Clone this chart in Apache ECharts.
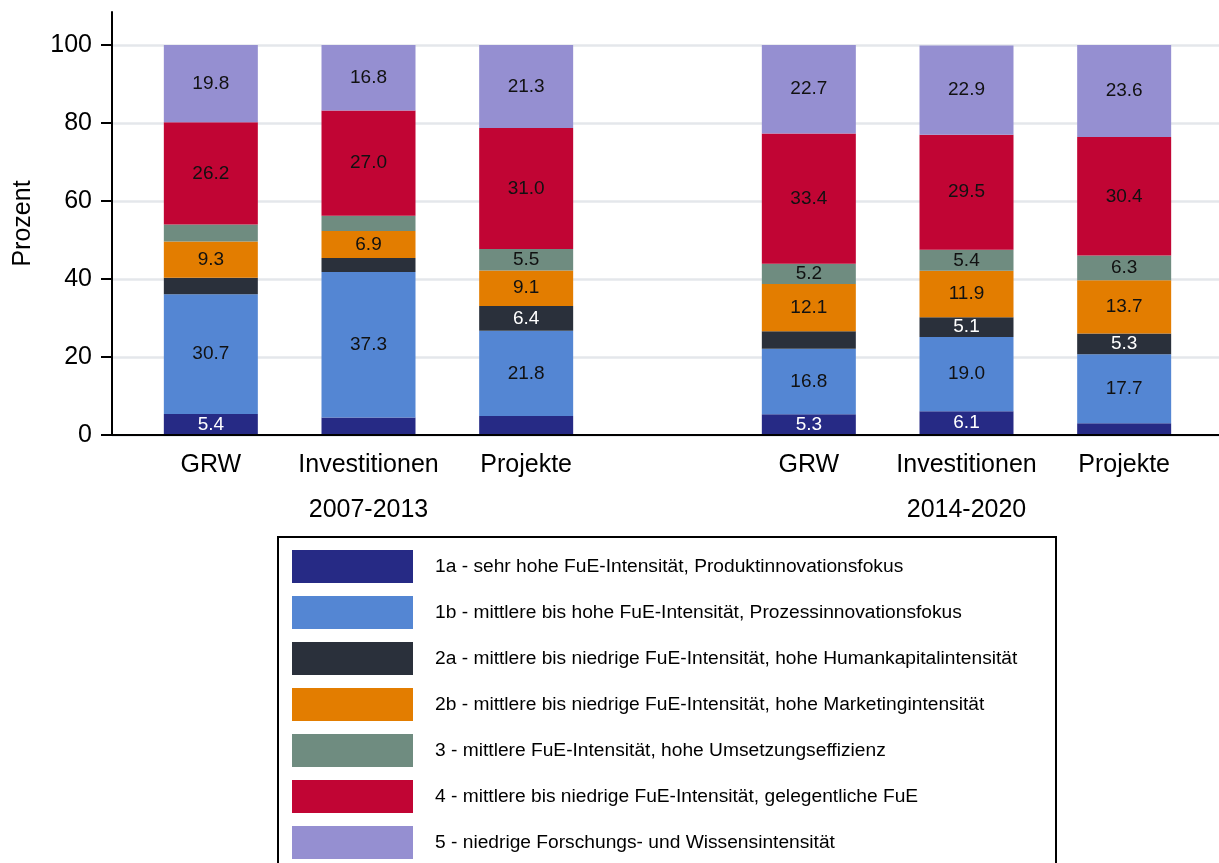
<!DOCTYPE html>
<html>
<head>
<meta charset="utf-8">
<script src="https://cdn.jsdelivr.net/npm/echarts@6/dist/echarts.min.js"></script>
<style>
  html, body { margin: 0; padding: 0; background: #fff; }
  #chart { width: 1219px; height: 863px; }
</style>
</head>
<body>
<div id="chart"></div>
<script>
// ---- data ----
const categories = ['GRW', 'Investitionen', 'Projekte'];
const periods = ['2007-2013', '2014-2020'];
const segmentNames = [
  '1a - sehr hohe FuE-Intensität, Produktinnovationsfokus',
  '1b - mittlere bis hohe FuE-Intensität, Prozessinnovationsfokus',
  '2a - mittlere bis niedrige FuE-Intensität, hohe Humankapitalintensität',
  '2b - mittlere bis niedrige FuE-Intensität, hohe Marketingintensität',
  '3 - mittlere FuE-Intensität, hohe Umsetzungseffizienz',
  '4 - mittlere bis niedrige FuE-Intensität, gelegentliche FuE',
  '5 - niedrige Forschungs- und Wissensintensität'
];
// order per bar: GRW, Investitionen, Projekte (2007-2013), then GRW, Investitionen, Projekte (2014-2020)
const v1a = [5.4, 4.5, 4.9, 5.3, 6.1, 3.0];
const v1b = [30.7, 37.3, 21.8, 16.8, 19.0, 17.7];
const v2a = [4.2, 3.6, 6.4, 4.5, 5.1, 5.3];
const v2b = [9.3, 6.9, 9.1, 12.1, 11.9, 13.7];
const v3  = [4.4, 3.9, 5.5, 5.2, 5.4, 6.3];
const v4  = [26.2, 27.0, 31.0, 33.4, 29.5, 30.4];
const v5  = [19.8, 16.8, 21.3, 22.7, 22.9, 23.6];
const yTicks = [0, 20, 40, 60, 80, 100];

const segmentValues = [v1a, v1b, v2a, v2b, v3, v4, v5];
const segmentColors = ['#262a85', '#5486d3', '#2a303b', '#e37d00', '#6f8c80', '#c10534', '#958fd1'];
const labelColors = ['#ffffff', '#111111', '#ffffff', '#111111', '#111111', '#111111', '#111111'];

const FONT = '"Liberation Sans", Arial, sans-serif';

const chart = echarts.init(document.getElementById('chart'), null, { renderer: 'canvas' });

const series = [];
[0, 1].forEach(function (p) {
  segmentNames.forEach(function (name, i) {
    series.push({
      name: name,
      type: 'bar',
      xAxisIndex: p === 0 ? 2 : 4,
      yAxisIndex: p === 0 ? 2 : 3,
      stack: 'period' + p,
      barWidth: 94,
      itemStyle: { color: segmentColors[i] },
      label: {
        show: true,
        position: 'inside',
        fontFamily: FONT,
        fontSize: 19,
        color: labelColors[i],
        formatter: function (d) { return d.value >= 5 ? d.value.toFixed(1) : ''; }
      },
      emphasis: { disabled: true },
      data: segmentValues[i].slice(p * 3, p * 3 + 3)
    });
  });
});

const catAxis = function (grid, data, offset) {
  return {
    gridIndex: grid,
    type: 'category',
    data: data,
    position: 'bottom',
    offset: offset,
    axisLine: { show: false },
    axisTick: { show: false },
    splitLine: { show: false },
    axisLabel: { interval: 0, hideOverlap: false, fontFamily: FONT, fontSize: 25, color: '#000', margin: 18 }
  };
};

const option = {
  animation: false,
  backgroundColor: '#ffffff',
  textStyle: { fontFamily: FONT },
  grid: [
    { left: 112, right: 0, top: 45, bottom: 428 },
    { left: 112, right: 0, top: 12, bottom: 428 },
    { left: 132, width: 473, top: 45, bottom: 428 },
    { left: 730, width: 473, top: 45, bottom: 428 }
  ],
  xAxis: [
    {
      gridIndex: 0, type: 'value', min: 0, max: 1, z: 5,
      axisLine: { show: true, onZero: false, lineStyle: { color: '#000', width: 2 } },
      axisTick: { show: false }, axisLabel: { show: false }, splitLine: { show: false }
    },
    {
      gridIndex: 1, type: 'value', min: 0, max: 1,
      axisLine: { show: false }, axisTick: { show: false }, axisLabel: { show: false }, splitLine: { show: false }
    },
    catAxis(2, categories, 0),
    catAxis(2, [periods[0]], 45),
    catAxis(3, categories, 0),
    catAxis(3, [periods[1]], 45)
  ],
  yAxis: [
    {
      gridIndex: 0, type: 'value', min: yTicks[0], max: yTicks[yTicks.length - 1], interval: 20,
      axisLine: { show: false },
      axisTick: { show: true, length: 11, lineStyle: { color: '#000', width: 2 } },
      axisLabel: { fontFamily: FONT, fontSize: 25, color: '#000', margin: 20 },
      splitLine: { show: true, lineStyle: { color: '#e4e7eb', width: 2.5 } }
    },
    {
      gridIndex: 1, type: 'value', min: 0, max: 108.5, z: 5,
      name: 'Prozent', nameLocation: 'middle', nameGap: 76,
      nameTextStyle: { fontFamily: FONT, fontSize: 25, color: '#000' },
      axisLine: { show: true, onZero: false, lineStyle: { color: '#000', width: 2 } },
      axisTick: { show: false }, axisLabel: { show: false }, splitLine: { show: false }
    },
    { gridIndex: 2, type: 'value', min: 0, max: 100, show: false },
    { gridIndex: 3, type: 'value', min: 0, max: 100, show: false }
  ],
  legend: {
    data: segmentNames,
    orient: 'vertical',
    left: 292,
    top: 550,
    padding: 0,
    itemWidth: 121,
    itemHeight: 33,
    itemGap: 13,
    icon: 'rect',
    selectedMode: false,
    textStyle: { fontFamily: FONT, fontSize: 19.2, color: '#000', padding: [0, 0, 0, 17] }
  },
  graphic: [
    {
      type: 'rect',
      z: 0,
      shape: { x: 278, y: 537, width: 778, height: 400 },
      style: { fill: 'none', stroke: '#000', lineWidth: 2 }
    }
  ],
  series: series
};

chart.setOption(option);
</script>
</body>
</html>
